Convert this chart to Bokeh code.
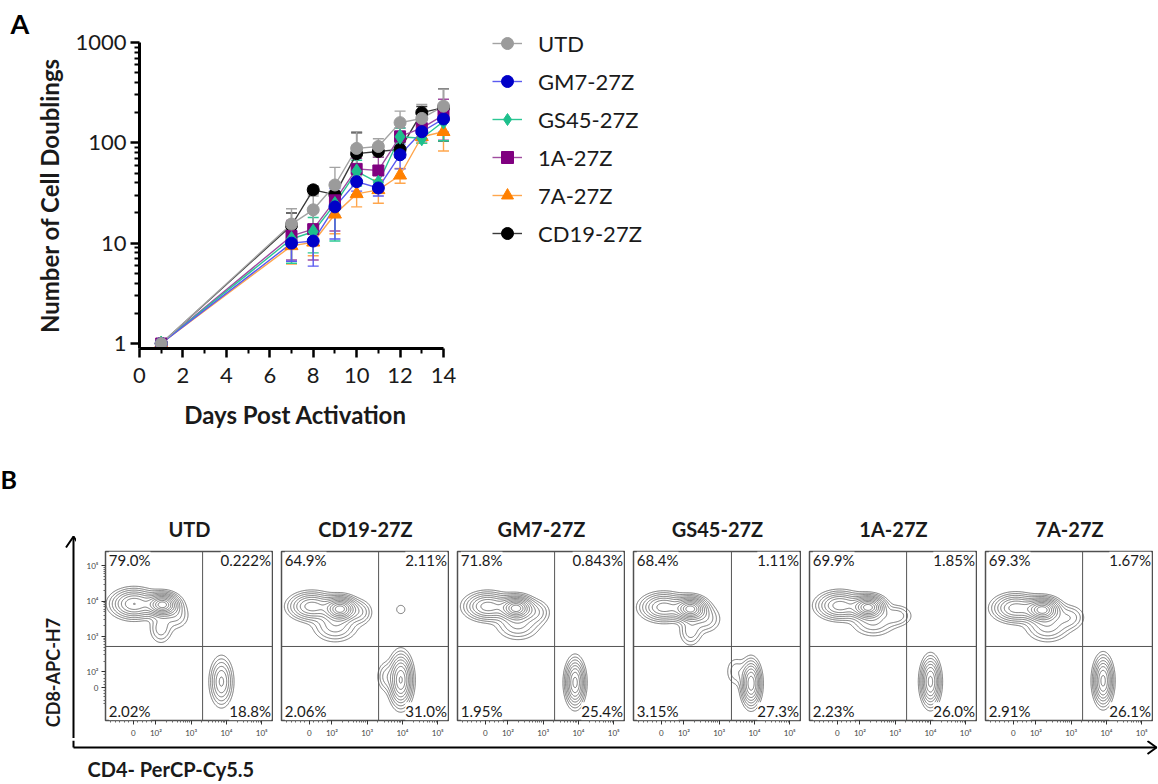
import numpy as np
from bokeh.plotting import figure
from bokeh.layouts import column, row
from bokeh.models import (Range1d, FixedTicker, Legend, LegendItem, Whisker,
                          TeeHead, ColumnDataSource, Label, Span)
from bokeh.core.properties import value
from bokeh.embed import file_html
from bokeh.resources import INLINE

FONT = "Lato"

# ---------------- Panel A data ----------------
days = [1, 7, 8, 9, 10, 11, 12, 13, 14]
utd_mean = [1, 15.5, 21.5, 38, 88, 92, 159, 175, 232]
utd_sd = [0, 6.5, 8, 19, 41, 18, 48, 66, 110]
gm7_mean = [1, 10, 10.5, 23, 41, 35.5, 76, 129, 173]
gm7_sd = [0, 3.4, 4.6, 12, 8, 6, 21, 20, 45]
gs45_mean = [1, 11, 13, 24.5, 52, 40, 115, 111, 163]
gs45_sd = [0, 4.7, 5, 14, 15, 8, 25, 12, 58]
a1_mean = [1, 11.8, 13.8, 26.7, 55, 53, 116, 140, 189]
a1_sd = [0, 5, 7, 13.5, 15, 19, 25, 35, 83]
a7_mean = [1, 9.4, 10.2, 19.4, 31, 34, 47.5, 115, 129]
a7_sd = [0, 3.2, 2.7, 7, 8, 9, 8, 15, 46]
cd19_mean = [1, 15, 34, 30.5, 78, 82, 86, 200, 224]
cd19_sd = [0, 5, 3, 2, 48, 10, 15, 30, 120]

legend_order = ["UTD", "GM7-27Z", "GS45-27Z", "1A-27Z", "7A-27Z", "CD19-27Z"]
draw_order = ["CD19-27Z", "7A-27Z", "1A-27Z", "GS45-27Z", "GM7-27Z", "UTD"]
series_data = {
    "UTD": (utd_mean, utd_sd),
    "GM7-27Z": (gm7_mean, gm7_sd),
    "GS45-27Z": (gs45_mean, gs45_sd),
    "1A-27Z": (a1_mean, a1_sd),
    "7A-27Z": (a7_mean, a7_sd),
    "CD19-27Z": (cd19_mean, cd19_sd),
}
y_ticks = [1, 10, 100, 1000]
y_labels = ["1", "10", "100", "1000"]
x_ticks = [0, 2, 4, 6, 8, 10, 12, 14]
x_minor = [1, 3, 5, 7, 9, 11, 13]

# ---------------- Panel B data ----------------
flow_names = ["UTD", "CD19-27Z", "GM7-27Z", "GS45-27Z", "1A-27Z", "7A-27Z"]
pct_ul = ["79.0%", "64.9%", "71.8%", "68.4%", "69.9%", "69.3%"]
pct_ur = ["0.222%", "2.11%", "0.843%", "1.11%", "1.85%", "1.67%"]
pct_ll = ["2.02%", "2.06%", "1.95%", "3.15%", "2.23%", "2.91%"]
pct_lr = ["18.8%", "31.0%", "25.4%", "27.3%", "26.0%", "26.1%"]
gate_x = [0.578, 0.578, 0.578, 0.583, 0.578, 0.578]
gate_y = [0.438, 0.438, 0.438, 0.438, 0.438, 0.438]
flow_tick_values = [0, 1e2, 1e3, 1e4, 1e5]
flow_tick_labels = ["0", "10²", "10³", "10⁴", "10⁵"]
# population components (display-scale coords): panel, weight, cx, cy, sx, sy
comp_panel = [0, 0, 0, 0, 0,
              1, 1, 1, 1, 1, 1, 1,
              2, 2, 2, 2, 2,
              3, 3, 3, 3, 3, 3,
              4, 4, 4, 4, 4,
              5, 5, 5, 5, 5]
comp_w = [1.00, 0.50, 0.12, 0.10, 0.30,
          1.00, 0.45, 0.18, 0.12, 0.05, 0.65, 0.10,
          1.00, 0.45, 0.16, 0.12, 0.55,
          1.00, 0.45, 0.12, 0.12, 0.60, 0.08,
          1.00, 0.45, 0.14, 0.12, 0.55,
          1.00, 0.45, 0.18, 0.12, 0.55]
comp_cx = [0.34, 0.17, 0.33, 0.42, 0.69,
           0.35, 0.18, 0.32, 0.47, 0.71, 0.71, 0.62,
           0.35, 0.18, 0.36, 0.47, 0.70,
           0.34, 0.18, 0.34, 0.43, 0.70, 0.61,
           0.35, 0.18, 0.38, 0.52, 0.72,
           0.34, 0.18, 0.37, 0.50, 0.70]
comp_cy = [0.685, 0.690, 0.545, 0.620, 0.230,
           0.660, 0.675, 0.560, 0.640, 0.657, 0.240, 0.260,
           0.665, 0.675, 0.570, 0.640, 0.225,
           0.660, 0.670, 0.530, 0.600, 0.220, 0.290,
           0.670, 0.680, 0.580, 0.620, 0.230,
           0.655, 0.665, 0.560, 0.610, 0.235]
comp_sx = [0.048, 0.070, 0.038, 0.045, 0.035,
           0.050, 0.070, 0.070, 0.040, 0.024, 0.035, 0.030,
           0.050, 0.070, 0.070, 0.045, 0.030,
           0.048, 0.070, 0.038, 0.050, 0.030, 0.035,
           0.050, 0.070, 0.070, 0.050, 0.030,
           0.052, 0.070, 0.070, 0.050, 0.030]
comp_sy = [0.034, 0.044, 0.050, 0.045, 0.073,
           0.036, 0.042, 0.050, 0.040, 0.024, 0.077, 0.050,
           0.035, 0.042, 0.050, 0.040, 0.070,
           0.035, 0.042, 0.050, 0.045, 0.068, 0.050,
           0.034, 0.042, 0.045, 0.035, 0.072,
           0.035, 0.042, 0.050, 0.040, 0.072]
contour_levels = [0.03, 0.055, 0.09, 0.14, 0.2, 0.28, 0.38, 0.5, 0.63, 0.78, 0.92]

# ---------------- styles ----------------
style = {
    "UTD": dict(mc="#9b9b9b", lc="#a3a3a3", marker="circle", size=12),
    "GM7-27Z": dict(mc="#0000c8", lc="#5a5af0", marker="circle", size=12),
    "GS45-27Z": dict(mc="#1dbf8c", lc="#2cc794", marker="diamond", size=15),
    "1A-27Z": dict(mc="#800080", lc="#a04ca0", marker="square", size=11),
    "7A-27Z": dict(mc="#ff8000", lc="#ffa64d", marker="triangle", size=13),
    "CD19-27Z": dict(mc="#000000", lc="#3a3a3a", marker="circle", size=12),
}

# ---------------- Panel A ----------------
XMAX = 14 * 312 / 304
YMIN = 10 ** (-5 / 100.33)
pA = figure(frame_width=312, frame_height=306, x_range=Range1d(0, XMAX),
            y_range=Range1d(YMIN, 1000), y_axis_type="log",
            output_backend="svg", toolbar_location=None, title="A",
            min_border_left=139, min_border_right=707,
            min_border_top=42, min_border_bottom=107)
pA.outline_line_color = None
pA.xgrid.visible = False
pA.ygrid.visible = False
pA.title.text_font = FONT
pA.title.text_font_style = "bold"
pA.title.text_font_size = "27px"
pA.title.text_color = "black"
pA.title.align = "left"
pA.title.offset = -129
pA.title.standoff = 5

line_r, scat_r = {}, {}
for name in draw_order:
    mean, sd = series_data[name]
    st = style[name]
    src = ColumnDataSource(dict(x=days, y=mean,
                                up=[m + s for m, s in zip(mean, sd)],
                                lo=[m - s if s > 0 else m for m, s in zip(mean, sd)]))
    w = Whisker(source=src, base="x", upper="up", lower="lo",
                line_color=st["lc"], line_width=1.4,
                upper_head=TeeHead(size=11, line_color=st["lc"], line_width=1.4),
                lower_head=TeeHead(size=11, line_color=st["lc"], line_width=1.4))
    pA.add_layout(w)
for name in draw_order:
    mean, sd = series_data[name]
    st = style[name]
    src = ColumnDataSource(dict(x=days, y=mean))
    line_r[name] = pA.line("x", "y", source=src, line_color=st["lc"], line_width=1.4)
for name in draw_order:
    mean, sd = series_data[name]
    st = style[name]
    src = ColumnDataSource(dict(x=days, y=mean))
    scat_r[name] = pA.scatter("x", "y", source=src, marker=st["marker"], size=st["size"],
                              fill_color=st["mc"], line_color=st["mc"])

for ax in (pA.xaxis[0], pA.yaxis[0]):
    ax.axis_line_width = 3
    ax.axis_line_color = "black"
    ax.major_tick_line_width = 2.5
    ax.minor_tick_line_width = 2
    ax.major_tick_out = 9
    ax.major_tick_in = 0
    ax.minor_tick_out = 5
    ax.minor_tick_in = 0
    ax.major_label_text_font = FONT
    ax.major_label_text_font_size = "22px"
    ax.major_label_text_color = "#1a1a1a"
    ax.axis_label_text_font = FONT
    ax.axis_label_text_font_style = "bold"
    ax.axis_label_text_font_size = "24px"
    ax.axis_label_text_color = "#1a1a1a"

pA.xaxis.ticker = FixedTicker(ticks=x_ticks, minor_ticks=x_minor)
pA.xaxis.bounds = (0, 14)
pA.xaxis.axis_label = "Days Post Activation"
pA.xaxis.major_label_standoff = 10
pA.xaxis.axis_label_standoff = 14

y_minor = [m * t for t in y_ticks[:-1] for m in range(2, 10)]
pA.yaxis.ticker = FixedTicker(ticks=y_ticks, minor_ticks=y_minor)
pA.yaxis.major_label_overrides = {t: l for t, l in zip(y_ticks, y_labels)}
pA.yaxis.axis_label = "Number of Cell Doublings"
pA.yaxis.major_label_standoff = 4
pA.yaxis.axis_label_standoff = 8

items = [LegendItem(label=n, renderers=[line_r[n], scat_r[n]]) for n in legend_order]
leg = Legend(items=items, location=(41, 100), glyph_width=30, glyph_height=30,
             label_height=30, spacing=8, padding=0, margin=0,
             border_line_color=None, background_fill_alpha=0,
             label_text_font=FONT, label_text_font_size="22px",
             label_text_color="#1a1a1a", label_standoff=16)
pA.add_layout(leg, "right")

# ---------------- Panel B ----------------
XZ, XP2, XDEC = 0.166, 0.30, 0.21
YZ, YP2, YDEC = 0.195, 0.288, 0.209


def to_disp(v, z, p2, dec):
    if v >= 100:
        return round(p2 + (np.log10(v) - 2) * dec, 4)
    return round(z + v / 100.0 * (p2 - z), 4)


minor_vals = [k * 10 ** d for d in range(2, 5) for k in range(2, 10)] + \
             [v for v in range(-100, 100, 20) if v != 0]

xg = np.linspace(0, 1, 220)
yg = np.linspace(0, 1, 220)
XX, YY = np.meshgrid(xg, yg)

ROW_H = 283
flow_figs = []
for i, name in enumerate(flow_names):
    first = i == 0
    f = figure(frame_width=168, frame_height=169, x_range=Range1d(0, 1), y_range=Range1d(0, 1),
               min_border_left=29 if first else 8, min_border_right=0,
               min_border_top=96, min_border_bottom=18,
               output_backend="svg", toolbar_location=None, title=name,
               y_axis_location="left" if first else None)
    f.title.align = "center"
    f.title.text_font = FONT
    f.title.text_font_style = "bold"
    f.title.text_font_size = "20px"
    f.title.text_color = "#1a1a1a"
    f.title.standoff = 22
    f.xgrid.visible = False
    f.ygrid.visible = False
    f.outline_line_color = "#505050"
    f.outline_line_width = 1.5

    # density from populations
    Z = np.zeros_like(XX)
    for p, w, cx, cy, sx, sy in zip(comp_panel, comp_w, comp_cx, comp_cy, comp_sx, comp_sy):
        if p == i:
            Z += w * np.exp(-0.5 * (((XX - cx) / sx) ** 2 + ((YY - cy) / sy) ** 2))
    f.contour(xg, yg, Z, contour_levels, line_color="#686868", line_width=0.9)

    f.add_layout(Span(location=gate_x[i], dimension="height", line_color="#555555", line_width=1))
    f.add_layout(Span(location=gate_y[i], dimension="width", line_color="#555555", line_width=1))

    lab_kw = dict(text_font=FONT, text_font_size="15px", text_color="#1a1a1a",
                  text_baseline="middle", background_fill_color="white",
                  background_fill_alpha=1.0)
    f.add_layout(Label(x=0.02, y=0.947, text=pct_ul[i], text_align="left", **lab_kw))
    f.add_layout(Label(x=0.985, y=0.947, text=pct_ur[i], text_align="right", **lab_kw))
    f.add_layout(Label(x=0.02, y=0.055, text=pct_ll[i], text_align="left", **lab_kw))
    f.add_layout(Label(x=0.985, y=0.055, text=pct_lr[i], text_align="right", **lab_kw))

    xmaj = [to_disp(v, XZ, XP2, XDEC) for v in flow_tick_values]
    xmin = [to_disp(v, XZ, XP2, XDEC) for v in minor_vals]
    xmin = [m for m in xmin if 0 < m < 1]
    f.xaxis.ticker = FixedTicker(ticks=xmaj, minor_ticks=xmin)
    f.xaxis.major_label_overrides = {t: l for t, l in zip(xmaj, flow_tick_labels)}
    axes = [f.xaxis[0]]
    if first:
        ymaj = [to_disp(v, YZ, YP2, YDEC) for v in flow_tick_values]
        ymin = [to_disp(v, YZ, YP2, YDEC) for v in minor_vals]
        ymin = [m for m in ymin if 0 < m < 1]
        f.yaxis.ticker = FixedTicker(ticks=ymaj, minor_ticks=ymin)
        f.yaxis.major_label_overrides = {t: l for t, l in zip(ymaj, flow_tick_labels)}
        axes.append(f.yaxis[0])
    for ax in axes:
        ax.axis_line_color = None
        ax.major_tick_out = 4
        ax.major_tick_in = 0
        ax.minor_tick_out = 2
        ax.minor_tick_in = 0
        ax.major_tick_line_color = "#333333"
        ax.minor_tick_line_color = "#666666"
        ax.major_label_text_font = FONT
        ax.major_label_text_font_size = "8px"
        ax.major_label_text_color = "#444444"
        ax.major_label_standoff = 3
    flow_figs.append(f)

# decoration: left column of row B (big vertical arrow, label, "B")
L_W = 76
figL = figure(width=L_W, height=ROW_H, x_range=Range1d(0, L_W), y_range=Range1d(ROW_H, 0),
              min_border=0, output_backend="svg", toolbar_location=None,
              x_axis_location=None, y_axis_location=None)
figL.outline_line_color = None
figL.xgrid.visible = False
figL.ygrid.visible = False
figL.line([73, 73], [81, ROW_H], line_color="black", line_width=2)
figL.line([65.5, 73, 80.5], [92, 81, 92], line_color="black", line_width=2)
figL.text([0], [23], text=["B"], text_font=value(FONT), text_font_style="bold",
          text_font_size="25px", text_baseline="middle", text_align="left", text_color="black")
figL.text([52], [217], text=["CD8-APC-H7"], angle=np.pi / 2, text_font=value(FONT),
          text_font_style="bold", text_font_size="18px", text_baseline="middle",
          text_align="center", text_color="#1a1a1a")

# decoration: bottom strip (big horizontal arrow, label)
BOT_H = 784 - 455 - ROW_H
BOT_W = 1158
figB = figure(width=BOT_W, height=BOT_H, x_range=Range1d(0, BOT_W), y_range=Range1d(BOT_H, 0),
              min_border=0, output_backend="svg", toolbar_location=None,
              x_axis_location=None, y_axis_location=None)
figB.outline_line_color = None
figB.xgrid.visible = False
figB.ygrid.visible = False
figB.line([73, 73], [0, 7], line_color="black", line_width=2)
figB.line([73, 1156], [7, 7], line_color="black", line_width=2)
figB.line([1147, 1156, 1147], [0.5, 7, 13.5], line_color="black", line_width=2)
figB.text([87], [28], text=["CD4- PerCP-Cy5.5"], text_font=value(FONT), text_font_style="bold",
          text_font_size="20px", text_baseline="middle", text_align="left", text_color="#1a1a1a")

layout = column(pA, row(column(figL), *flow_figs), row(figB))
open("out.html", "w").write(file_html(layout, INLINE))
